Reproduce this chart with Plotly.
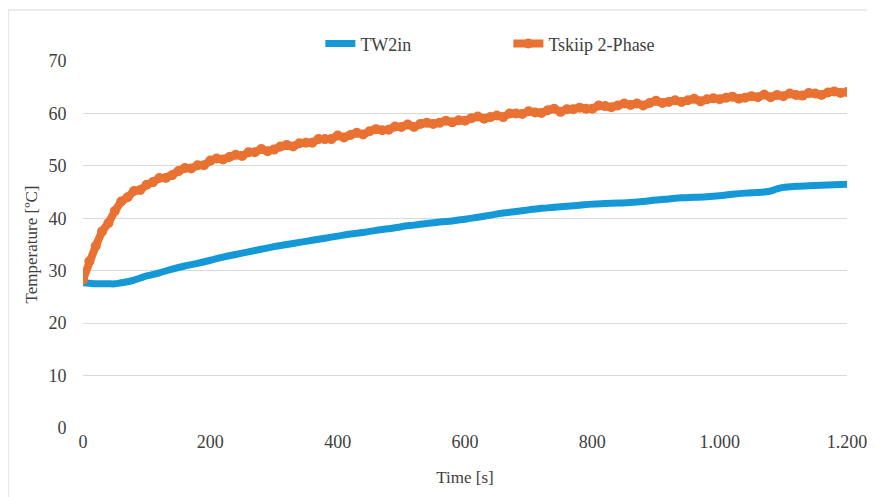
import plotly.graph_objects as go

# Time axis (s)
t_orange = list(range(0, 1201, 10))
tskiip = [28.3, 31.8, 34.7, 37.5, 39.1, 41.4, 43.2, 44.0, 45.2, 45.4,
          46.4, 46.9, 47.7, 47.7, 48.2, 49.0, 49.6, 49.5, 50.1, 50.1,
          51.0, 51.4, 51.2, 51.7, 52.1, 51.9, 52.6, 52.6, 53.2, 52.8,
          53.1, 53.7, 54.0, 53.7, 54.3, 54.4, 54.4, 55.1, 55.1, 55.1,
          55.8, 55.4, 55.9, 56.3, 56.0, 56.6, 57.0, 56.8, 56.9, 57.5,
          57.4, 57.9, 57.4, 58.0, 58.2, 58.0, 58.2, 58.6, 58.3, 58.7,
          58.6, 59.1, 59.4, 59.0, 59.3, 59.6, 59.3, 60.0, 60.0, 59.9,
          60.4, 60.2, 60.1, 60.6, 60.9, 60.3, 60.8, 60.8, 61.1, 60.9,
          60.9, 61.5, 61.4, 61.2, 61.5, 61.9, 61.6, 61.9, 61.5, 62.0,
          62.4, 62.0, 62.2, 62.5, 62.2, 62.5, 62.8, 62.3, 62.7, 62.9,
          62.7, 63.0, 63.2, 62.8, 63.0, 63.3, 63.1, 63.6, 63.1, 63.5,
          63.3, 63.8, 63.5, 63.4, 63.9, 63.8, 63.5, 64.0, 64.2, 63.9,
          64.1]

t_blue = [0, 10, 20, 30, 40, 50, 60, 70, 80, 90, 100, 120, 140, 160, 180,
          200, 220, 240, 260, 280, 300, 320, 340, 360, 380, 400, 420, 440,
          460, 480, 500, 520, 540, 560, 580, 600, 620, 640, 660, 680, 700,
          720, 740, 760, 780, 800, 820, 840, 860, 880, 900, 920, 940, 960,
          980, 1000, 1020, 1040, 1060, 1070, 1080, 1090, 1100, 1120, 1140,
          1160, 1180, 1200]
tw2in = [27.7, 27.6, 27.5, 27.5, 27.5, 27.5, 27.7, 27.9, 28.2, 28.6, 29.0,
         29.6, 30.3, 30.9, 31.4, 32.0, 32.6, 33.1, 33.6, 34.1, 34.6, 35.0,
         35.4, 35.8, 36.2, 36.6, 37.0, 37.3, 37.7, 38.0, 38.4, 38.7, 39.0,
         39.3, 39.5, 39.8, 40.2, 40.6, 41.0, 41.3, 41.6, 41.9, 42.1, 42.3,
         42.5, 42.7, 42.8, 42.9, 43.0, 43.2, 43.5, 43.7, 43.9, 44.0, 44.1,
         44.3, 44.6, 44.8, 44.9, 45.0, 45.2, 45.6, 45.9, 46.1, 46.2, 46.3,
         46.4, 46.5]

x_ticks = [0, 200, 400, 600, 800, 1000, 1200]
x_labels = ["0", "200", "400", "600", "800", "1.000", "1.200"]
y_ticks = [0, 10, 20, 30, 40, 50, 60, 70]

BLUE = "#1599d6"
ORANGE = "#e97132"
FONT = "Liberation Serif"
TXT = "#404040"

fig = go.Figure()
fig.add_trace(go.Scatter(
    x=t_blue, y=tw2in, name="TW2in", mode="lines+markers",
    line=dict(color=BLUE, width=7, shape="spline"),
    marker=dict(color=BLUE, size=6),
))
fig.add_trace(go.Scatter(
    x=t_orange, y=tskiip, name="Tskiip 2-Phase", mode="lines+markers",
    line=dict(color=ORANGE, width=8),
    marker=dict(color=ORANGE, size=10),
))

fig.update_layout(
    width=875, height=497,
    margin=dict(l=75, r=36, t=53, b=77, autoexpand=False),
    paper_bgcolor="white", plot_bgcolor="white",
    font=dict(family=FONT, size=18, color=TXT),
    showlegend=True,
    legend=dict(
        orientation="h", xref="container", yref="container",
        x=0.357, xanchor="left", y=0.928, yanchor="middle",
        font=dict(family=FONT, size=18, color=TXT),
        entrywidth=143, itemwidth=30,
        bgcolor="rgba(0,0,0,0)",
    ),
    xaxis=dict(
        range=[0, 1200], tickvals=x_ticks, ticktext=x_labels,
        showgrid=False, zeroline=False, showline=False,
        ticks="", ticklabelstandoff=1,
        title=dict(text="Time [s]", font=dict(family=FONT, size=17, color=TXT), standoff=20),
    ),
    yaxis=dict(
        range=[0, 70], tickvals=y_ticks,
        showgrid=True, gridcolor="#d9d9d9", gridwidth=1,
        zeroline=False, showline=False,
        ticks="outside", ticklen=12, tickcolor="rgba(0,0,0,0)",
        title=dict(text="Temperature [ºC]", font=dict(family=FONT, size=17, color=TXT), standoff=6),
    ),
    shapes=[dict(
        type="rect", xref="paper", yref="paper",
        x0=-0.098, x1=1.06, y0=-0.21, y1=1.139,
        line=dict(color="#d9d9d9", width=1), fillcolor="rgba(0,0,0,0)",
        layer="below",
    )],
)

fig.write_html("out.html")
